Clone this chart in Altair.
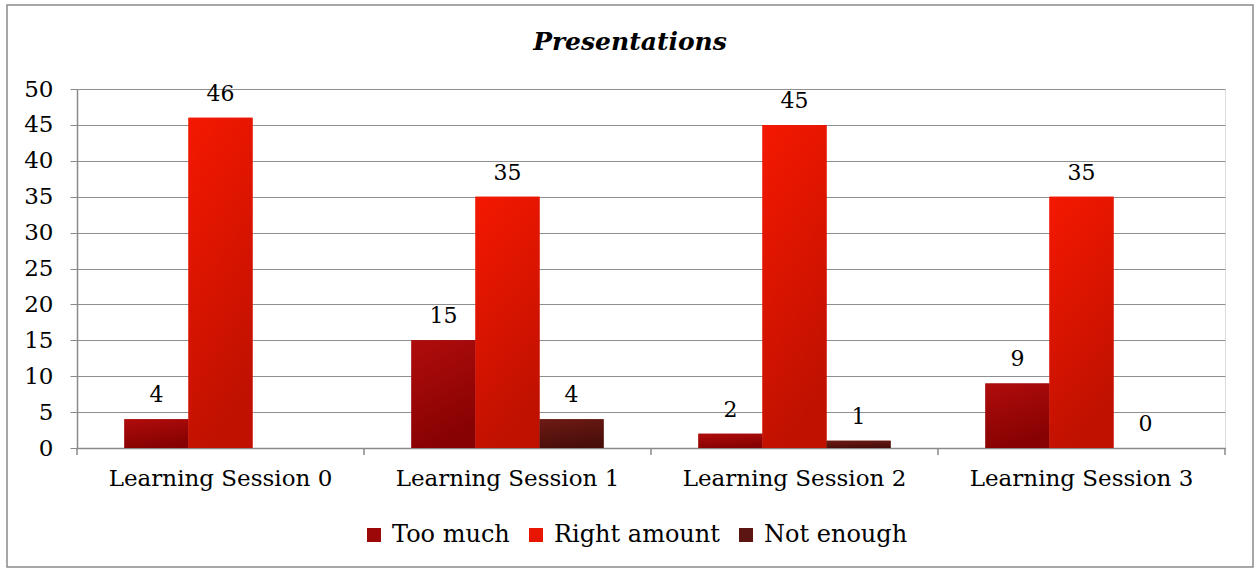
import altair as alt
import pandas as pd

sessions = ["Learning Session 0", "Learning Session 1", "Learning Session 2", "Learning Session 3"]
series = ["Too much", "Right amount", "Not enough"]
too_much = [4, 15, 2, 9]
right_amount = [46, 35, 45, 35]
not_enough = [None, 4, 1, 0]
chart_title = "Presentations"

flat_colors = ["#9c0808", "#e81500", "#5c1510"]
grad_stops = {
    "Too much": ("#b00c0c", "#870202"),
    "Right amount": ("#f51800", "#c01100"),
    "Not enough": ("#6e1a14", "#4a0e0a"),
}

rows = []
for s, vals in zip(series, [too_much, right_amount, not_enough]):
    for sess, v in zip(sessions, vals):
        if v is not None:
            rows.append({"session": sess, "series": s, "value": v})
df = pd.DataFrame(rows)

FONT = "DejaVu Serif"
W, H = 1148, 359

x_axis = alt.Axis(
    title=None, ticks=False, labelFont=FONT, labelFontSize=23, labelColor="#000000",
    labelPadding=19, labelLimit=0, domainColor="#8a8a8a", domainWidth=1.5, labelAngle=0,
    grid=False,
)
x_scale = alt.Scale(paddingInner=0, paddingOuter=0)
x_enc = alt.X("session:N", sort=sessions, scale=x_scale, axis=x_axis)
xo_enc = alt.XOffset("series:N", sort=series,
                     scale=alt.Scale(domain=series, paddingInner=0, paddingOuter=0.74))
y_enc = alt.Y(
    "value:Q",
    scale=alt.Scale(domain=[0, 50], nice=False),
    axis=alt.Axis(
        title=None, values=list(range(0, 51, 5)), labelFont=FONT, labelFontSize=23,
        labelColor="#000000", labelPadding=17, tickSize=7, tickColor="#8a8a8a",
        domainColor="#8a8a8a", domainWidth=1.5, gridColor="#8f8f8f", gridWidth=1.2,
    ),
)

base = alt.Chart(df).encode(x=x_enc, xOffset=xo_enc, y=y_enc)

flat = base.mark_bar().encode(
    color=alt.Color(
        "series:N",
        scale=alt.Scale(domain=series, range=flat_colors),
        legend=alt.Legend(
            orient="none", legendX=285, legendY=434, direction="horizontal", title=None,
            symbolType="square", symbolSize=196, symbolStrokeWidth=0, symbolOpacity=1,
            labelFont=FONT, labelFontSize=24, labelColor="#000000", labelOffset=6,
            columnPadding=14, labelLimit=0,
        ),
    )
)

grad_layers = []
for s in series:
    top, bottom = grad_stops[s]
    g = alt.LinearGradient(
        gradient="linear",
        stops=[alt.GradientStop(color=top, offset=0), alt.GradientStop(color=bottom, offset=1)],
        x1=0, x2=0.3, y1=0, y2=1,
    )
    grad_layers.append(
        base.mark_bar(color=g).transform_filter(alt.datum.series == s)
    )

labels = base.mark_text(
    baseline="bottom", dy=-12, font=FONT, fontSize=22, color="#000000"
).encode(text=alt.Text("value:Q"))

tick_df = pd.DataFrame({"session": sessions})
xticks = alt.Chart(tick_df).mark_rule(color="#8a8a8a", strokeWidth=1.5).encode(
    x=alt.X("session:N", sort=sessions, bandPosition=0, scale=x_scale, axis=x_axis),
    y=alt.value(H), y2=alt.value(H + 7),
)
one = pd.DataFrame({"a": [0]})
end_tick = alt.Chart(one).mark_rule(color="#8a8a8a", strokeWidth=1.5).encode(
    x=alt.value(W), y=alt.value(H), y2=alt.value(H + 7)
)
border = alt.Chart(one).mark_rect(
    filled=False, stroke="#8a8a8a", strokeWidth=1.5
).encode(x=alt.value(-70), x2=alt.value(1176), y=alt.value(-84), y2=alt.value(478))

title_df = pd.DataFrame({"t": [chart_title]})
title = alt.Chart(title_df).mark_text(
    font=FONT, fontSize=25, fontWeight="bold", fontStyle="italic", color="#000000",
    baseline="middle", align="center",
).encode(text="t:N", x=alt.value(553), y=alt.value(-47))

chart = alt.layer(flat, *grad_layers, labels, xticks, end_tick, border, title).properties(
    width=W,
    height=H,
    padding={"left": 77, "top": 89, "right": 35, "bottom": 123},
    autosize=alt.AutoSizeParams(type="none"),
).configure_view(stroke=None).configure(background="#ffffff")

chart.save("out.html", embed_options={"renderer": "svg", "actions": False})
